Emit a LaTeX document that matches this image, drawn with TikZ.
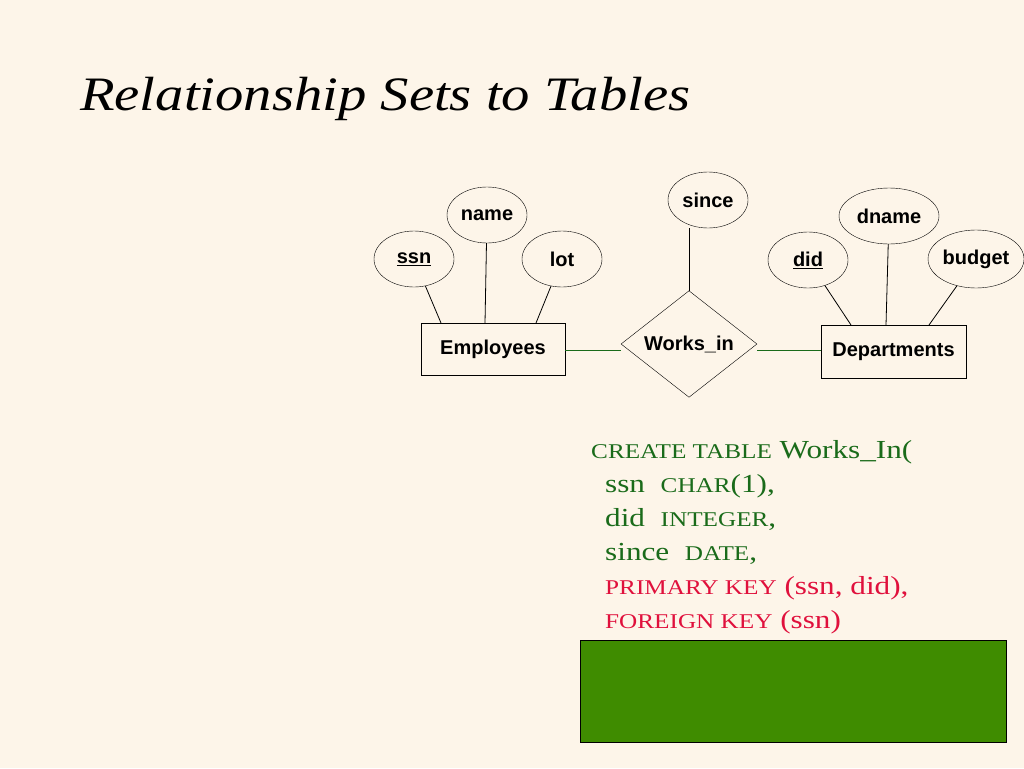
\documentclass[tikz,border=0pt]{standalone}
\usepackage{fontspec}
\setmainfont{Liberation Serif}
\newfontfamily\lsans{Liberation Sans}
\usetikzlibrary{shapes.geometric}
\definecolor{bg}{HTML}{FDF5E9}
\definecolor{sqlg}{HTML}{1A6B1A}
\definecolor{sqlr}{HTML}{E0103C}
\definecolor{boxg}{HTML}{3F8C00}
\tikzset{
 attr/.style={ellipse,draw,fill=bg,minimum width=80pt,minimum height=56pt,inner sep=0pt,font=\lsans\bfseries\fontsize{20}{24}\selectfont},
 ent/.style={rectangle,draw,fill=bg,minimum width=144pt,minimum height=52pt,inner sep=0pt,font=\lsans\bfseries\fontsize{20}{24}\selectfont},
 rel/.style={diamond,draw,fill=bg,minimum width=136pt,minimum height=104pt,inner sep=0pt,font=\lsans\bfseries\fontsize{20}{24}\selectfont},
 sql/.style={anchor=base west,inner sep=0pt,font=\fontsize{26}{30}\selectfont},
 link/.style={draw,line width=0.8pt},
 glink/.style={draw=sqlg,line width=0.8pt}
}
\newcommand{\sm}[1]{{\fontsize{21}{24}\selectfont #1}}
\newcommand{\widen}[1]{\scalebox{1.2}[1]{#1}}
\begin{document}
\begin{tikzpicture}[x=1pt,y=-1pt]
\fill[bg] (0,0) rectangle (1024,768);
\useasboundingbox (0,0) rectangle (1024,768);
\node[anchor=base west,inner sep=0pt,font=\fontsize{48}{56}\selectfont\itshape] (title) at (80,110) {\scalebox{1.18}[1]{Relationship Sets to Tables}};
\node[attr] (name) at (487,215) {name};
\node[attr] (since) at (708,200) {since};
\node[attr,minimum width=100pt] (dname) at (889,216) {dname};
\node[attr] (ssn) at (414,259) {\underline{ssn}};
\node[attr] (lot) at (562,259) {lot};
\node[attr] (did) at (808,260) {\underline{did}};
\node[attr,minimum width=96pt,minimum height=58pt] (budget) at (976,259) {budget};
\node[ent] (emp) at (493,349) {Employees};
\node[ent,minimum width=145pt,minimum height=53pt] (dep) at (893.5,351.5) {Departments};
\node[rel] (works) at (689,344) {\raisebox{-6pt}{Works\_in}};
\coordinate (e1) at (441,323); \coordinate (e2) at (485,323); \coordinate (e3) at (536,323);
\coordinate (d1) at (851,325); \coordinate (d2) at (886,325); \coordinate (d3) at (929,325);
\coordinate (s1) at (689,228);
\draw[link] (ssn) -- (e1);
\draw[link] (name) -- (e2);
\draw[link] (lot) -- (e3);
\draw[link] (s1) -- (works.north);
\draw[link] (did) -- (d1);
\draw[link] (dname) -- (d2);
\draw[link] (budget) -- (d3);
\draw[glink] (emp.east |- 0,350) -- (works.west |- 0,350);
\draw[glink] (works.east |- 0,350) -- (dep.west |- 0,350);
\node[sql,text=sqlg] (l1) at (591,458) {\widen{\sm{CREATE TABLE} Works\_In(}};
\node[sql,text=sqlg] (l2) at (605,492) {\widen{ssn\ \ \sm{CHAR}(1),}};
\node[sql,text=sqlg] (l3) at (605,526) {\widen{did\ \ \sm{INTEGER},}};
\node[sql,text=sqlg] (l4) at (605,560) {\widen{since\ \ \sm{DATE},}};
\node[sql,text=sqlr] (l5) at (605,594) {\widen{\sm{PRIMARY KEY} (ssn, did),}};
\node[sql,text=sqlr] (l6) at (605,628) {\widen{\sm{FOREIGN KEY} (ssn)}};
\draw[fill=boxg] (580,640) rectangle (1006,742);
\end{tikzpicture}
\end{document}
